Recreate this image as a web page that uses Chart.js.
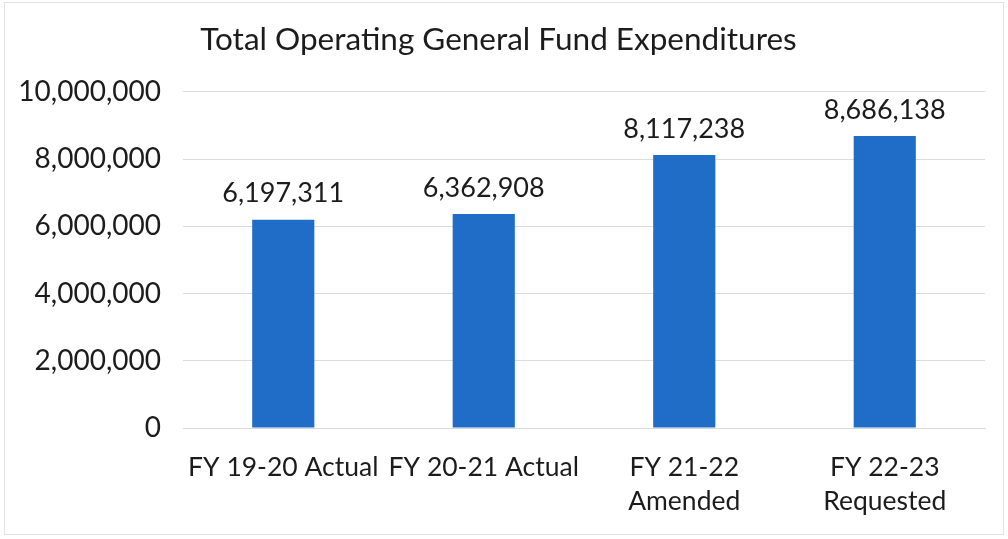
<!DOCTYPE html>
<html>
<head>
<meta charset="utf-8">
<script src="https://cdn.jsdelivr.net/npm/chart.js@4.4.0/dist/chart.umd.min.js"></script>
<style>
  html, body { margin: 0; padding: 0; background: #ffffff; }
  #wrap { position: relative; width: 1008px; height: 539px; }
  #frame { position: absolute; left: 4px; top: 2px; width: 998px; height: 531px; border: 1px solid #e2e2e2; pointer-events: none; }
</style>
</head>
<body>
<div id="wrap">
  <canvas id="c" width="1008" height="539"></canvas>
  <div id="frame"></div>
</div>
<script>
const chartTitle = 'Total Operating General Fund Expenditures';
const categories = [['FY 19-20 Actual'], ['FY 20-21 Actual'], ['FY 21-22', 'Amended'], ['FY 22-23', 'Requested']];
const expenditures = [6197311, 6362908, 8117238, 8686138];
const yTicks = [0, 2000000, 4000000, 6000000, 8000000, 10000000];

const FONT = 'Lato, "Open Sans", sans-serif';
const TEXT = '#1c1c1c';

const fmt = v => v.toLocaleString('en-US');

const valueLabels = {
  id: 'valueLabels',
  afterDatasetsDraw(chart) {
    const ctx = chart.ctx;
    ctx.save();
    ctx.font = '27px ' + FONT;
    ctx.fillStyle = TEXT;
    ctx.textAlign = 'center';
    ctx.textBaseline = 'middle';
    chart.getDatasetMeta(0).data.forEach((bar, i) => {
      ctx.fillText(fmt(chart.data.datasets[0].data[i]), bar.x, bar.y - 26);
    });
    ctx.restore();
  }
};

new Chart(document.getElementById('c'), {
  type: 'bar',
  data: {
    labels: categories,
    datasets: [{
      data: expenditures,
      backgroundColor: '#1f6dc6',
      borderWidth: 0,
      categoryPercentage: 1,
      barPercentage: 0.31
    }]
  },
  options: {
    responsive: false,
    animation: false,
    devicePixelRatio: 1,
    layout: { padding: { left: 12, right: 23, top: 0, bottom: 0 } },
    plugins: {
      legend: { display: false },
      tooltip: { enabled: false },
      title: {
        display: true,
        text: chartTitle,
        color: TEXT,
        font: { family: FONT, size: 31.5, weight: 'normal', lineHeight: 1.2 },
        padding: { top: 21, bottom: 33 }
      }
    },
    scales: {
      x: {
        grid: { display: false, drawTicks: false },
        border: { display: true, color: '#d9d9d9', width: 1 },
        ticks: {
          color: TEXT,
          padding: 22,
          maxRotation: 0,
          autoSkip: false,
          font: { family: FONT, size: 26.5, lineHeight: 1.3 }
        },
        afterFit(s) { s.height = 111; }
      },
      y: {
        min: 0,
        max: 10000000,
        afterBuildTicks(s) { s.ticks = yTicks.map(v => ({ value: v })); },
        grid: { color: '#dcdcdc', drawTicks: false },
        border: { display: false },
        ticks: {
          color: TEXT,
          padding: 22,
          font: { family: FONT, size: 28 },
          callback: v => fmt(v)
        },
        afterFit(s) { s.width = 171; }
      }
    }
  },
  plugins: [valueLabels]
});
</script>
</body>
</html>
